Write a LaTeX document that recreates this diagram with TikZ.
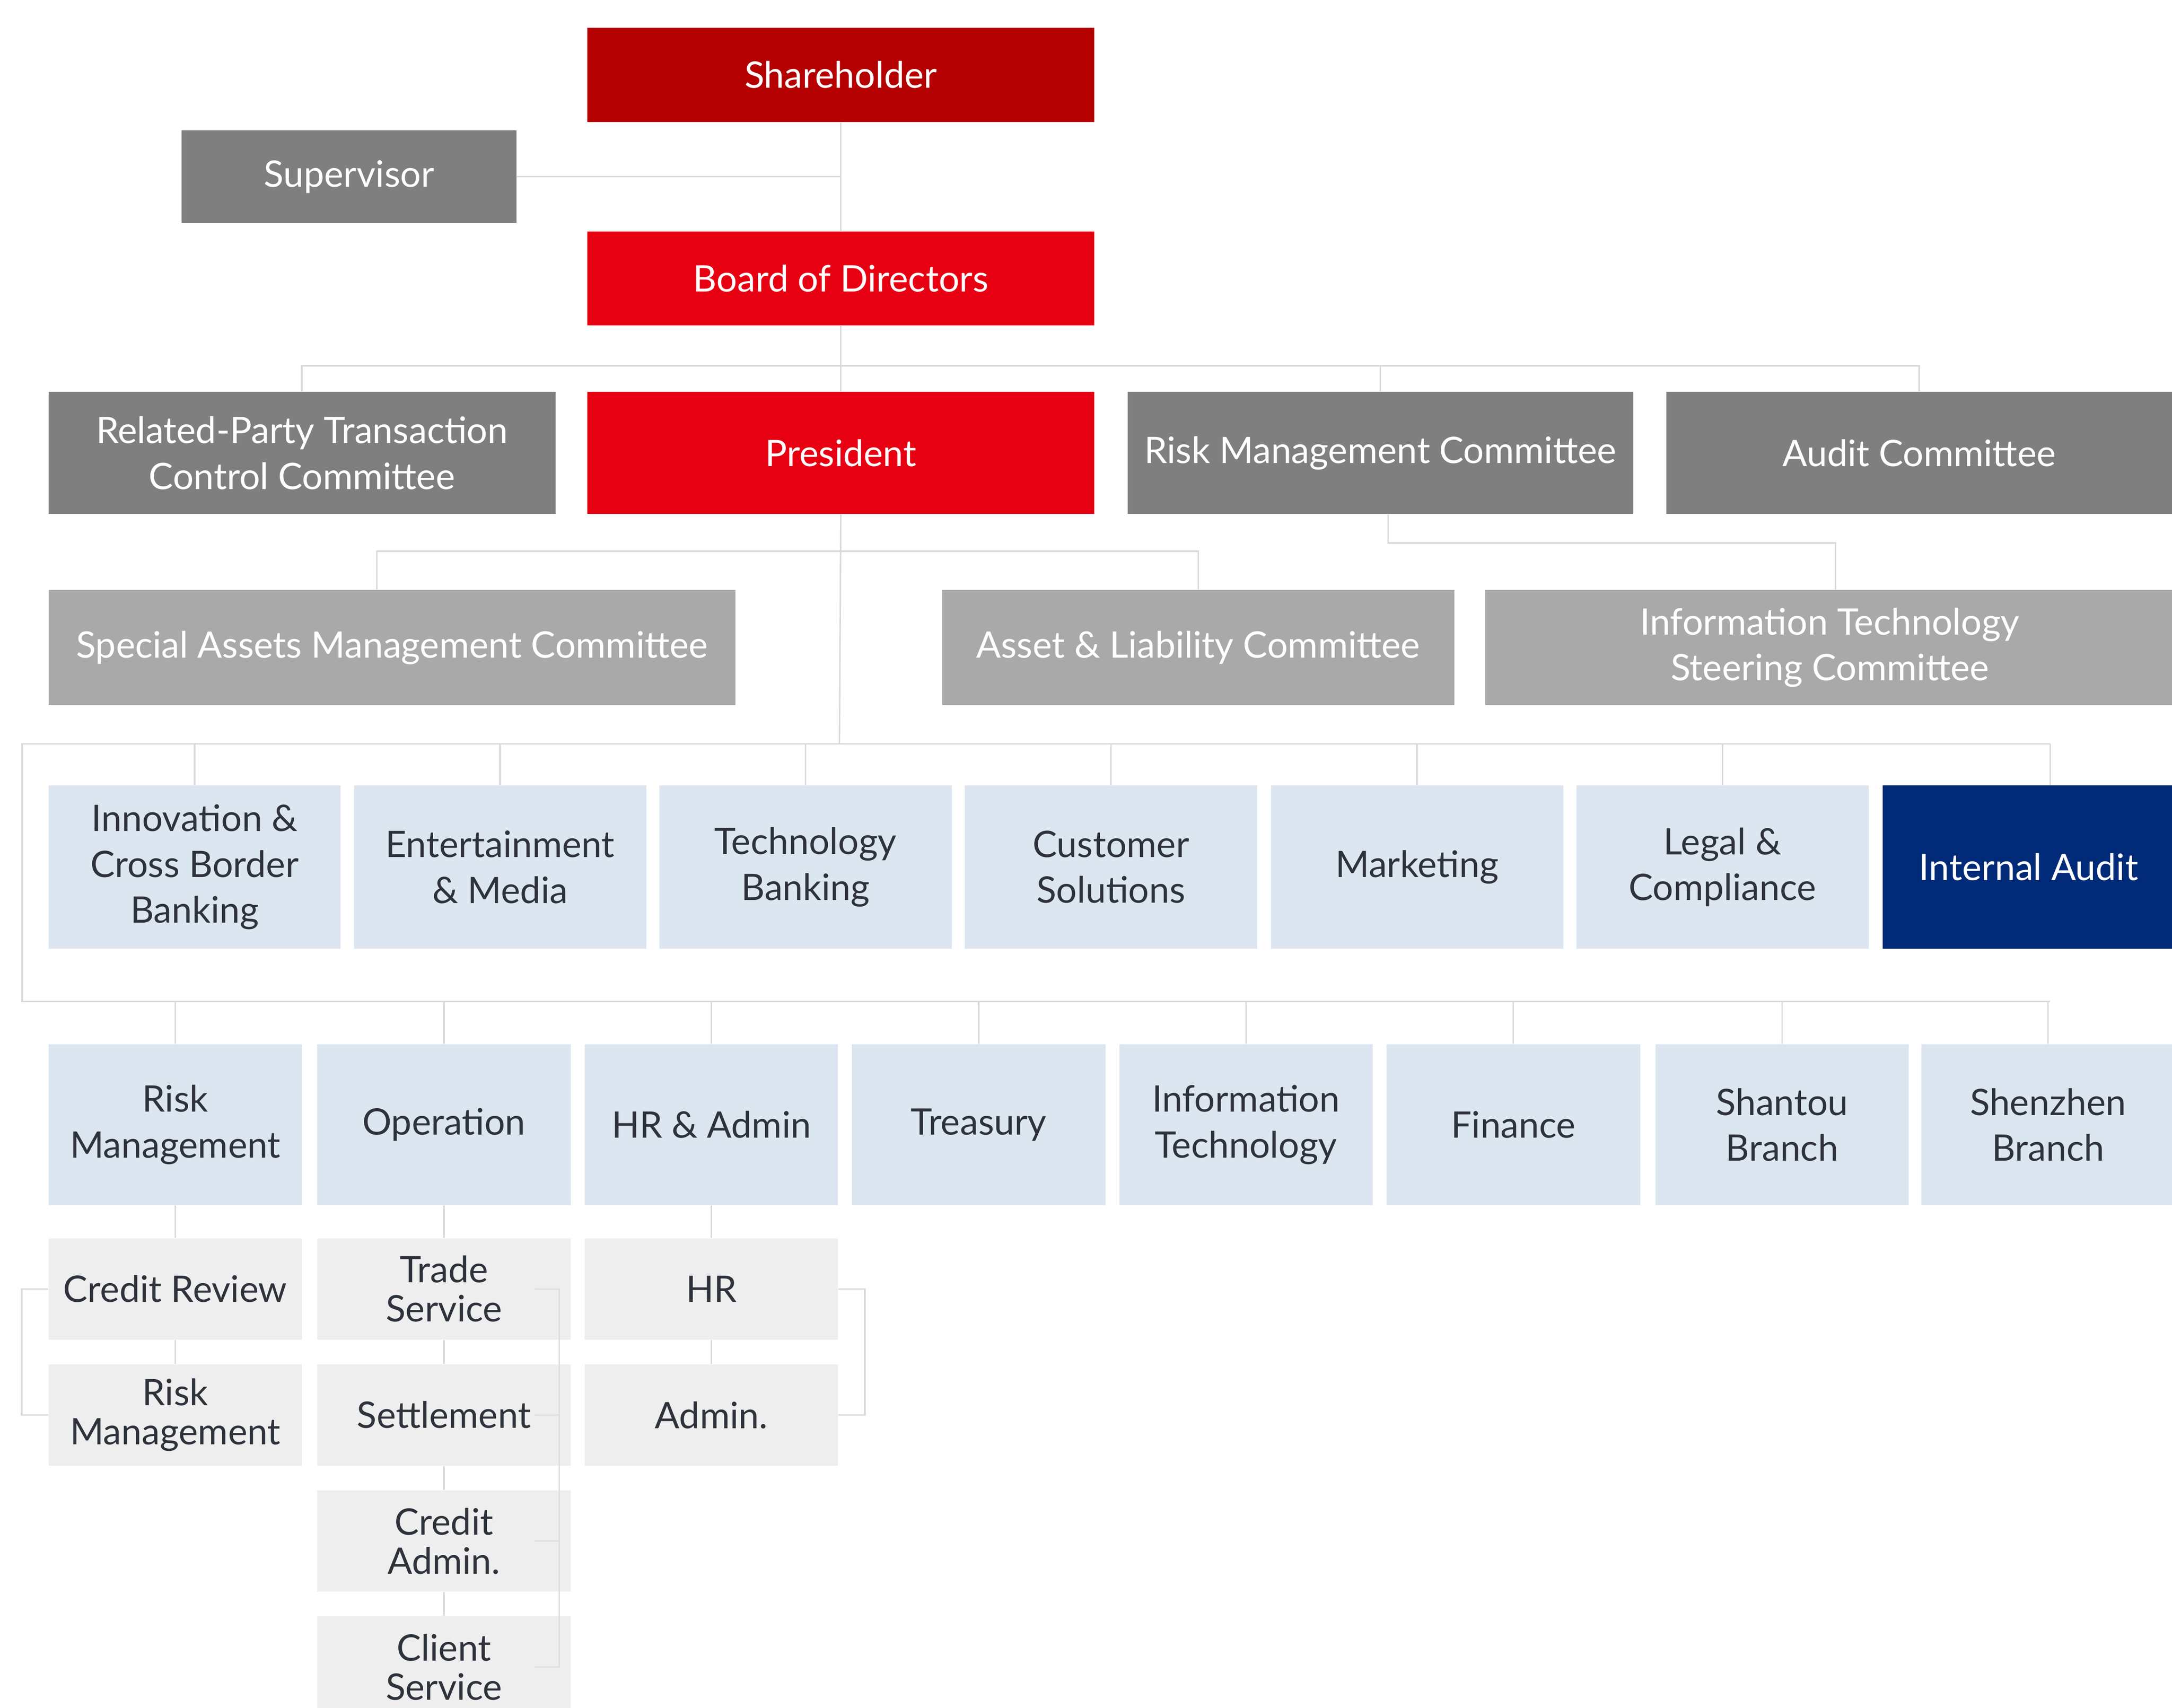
\documentclass[tikz,border=0pt]{standalone}
\usepackage{fontspec}
\setmainfont{Lato}
\usetikzlibrary{calc}

\definecolor{shred}{HTML}{B40000}
\definecolor{bdred}{HTML}{E60012}
\definecolor{dkgrey}{HTML}{7F7F7F}
\definecolor{ltgrey}{HTML}{A9A9A9}
\definecolor{paleblue}{HTML}{DCE6F1}
\definecolor{navy}{HTML}{012B78}
\definecolor{subgrey}{HTML}{EEEEEE}
\definecolor{linegrey}{HTML}{D9D9D9}
\definecolor{txt}{HTML}{2E323B}

\tikzset{
	box/.style={inner sep=0pt, align=center, font=\fontsize{15}{18.8}\selectfont},
	darkredbox/.style={box, fill=shred, text=white},
	redbox/.style={box, fill=bdred, text=white},
	greybox/.style={box, fill=dkgrey, text=white},
	lightgreybox/.style={box, fill=ltgrey, text=white},
	bluebox/.style={box, fill=paleblue, text=txt, minimum width=4.22cm, minimum height=2.36cm},
	navybox/.style={box, fill=navy, text=white, minimum width=4.22cm, minimum height=2.36cm},
	deptbox/.style={box, fill=paleblue, text=txt, minimum width=3.66cm, minimum height=2.32cm},
	subbox/.style={box, fill=subgrey, text=txt, minimum width=3.66cm, minimum height=1.46cm, font=\fontsize{15}{16}\selectfont},
	link/.style={draw=linegrey, line width=0.6pt},
}

\begin{document}
\begin{tikzpicture}[x=0.02cm, y=-0.02cm]
		\path[use as bounding box, clip] (0,0) rectangle (1568,1233);
		
		%%%%% TOP %%%%%
		\node[darkredbox, minimum width=7.32cm, minimum height=1.36cm] (share) at (607,54) {Shareholder};
		\node[greybox, minimum width=4.84cm, minimum height=1.34cm] (sup) at (252,127.5) {Supervisor};
		\node[redbox, minimum width=7.32cm, minimum height=1.36cm] (board) at (607,201) {Board of Directors};
		
		%%%%% COMMITTEES %%%%%
		\node[greybox, minimum width=7.32cm, minimum height=1.76cm] (rptc) at (218,327) {Related-Party Transaction\\Control Committee};
		\node[redbox, minimum width=7.32cm, minimum height=1.76cm] (pres) at (607,327) {President};
		\node[greybox, minimum width=7.30cm, minimum height=1.76cm] (rmc) at (996.5,327) {Risk Management Committee};
		\node[greybox, minimum width=7.30cm, minimum height=1.76cm] (audc) at (1385.5,327) {Audit Committee};
		
		\node[lightgreybox, minimum width=9.92cm, minimum height=1.66cm] (samc) at (283,467.5) {Special Assets Management Committee};
		\node[lightgreybox, minimum width=7.40cm, minimum height=1.66cm] (alc) at (865,467.5) {Asset \& Liability Committee};
		\node[lightgreybox, minimum width=9.96cm, minimum height=1.66cm] (itsc) at (1321,467.5) {Information Technology\\Steering Committee};
		
		%%%%% BUSINESS UNITS %%%%%
		\node[bluebox] (icbb) at (140.5,626) {Innovation \&\\Cross Border\\Banking};
		\node[bluebox] (ent) at (361,626) {Entertainment\\\& Media};
		\node[bluebox] (tech) at (581.5,626) {Technology\\Banking};
		\node[bluebox] (cust) at (802,626) {Customer\\Solutions};
		\node[bluebox] (mkt) at (1023,626) {Marketing};
		\node[bluebox] (legal) at (1243.5,626) {Legal \&\\Compliance};
		\node[navybox] (iaud) at (1464.5,626) {Internal Audit};
		
		%%%%% DEPARTMENTS %%%%%
		\node[deptbox] (riskm) at (126.5,812) {Risk\\Management};
		\node[deptbox] (oper) at (320.5,812) {Operation};
		\node[deptbox] (hradm) at (513.5,812) {HR \& Admin};
		\node[deptbox] (treas) at (706.5,812) {Treasury};
		\node[deptbox] (infot) at (899.5,812) {Information\\Technology};
		\node[deptbox] (fin) at (1092.5,812) {Finance};
		\node[deptbox] (shant) at (1286.5,812) {Shantou\\Branch};
		\node[deptbox] (shenz) at (1478.5,812) {Shenzhen\\Branch};
		
		\node[subbox] (credrev) at (126.5,930.5) {Credit Review};
		\node[subbox] (riskm2) at (126.5,1021.5) {Risk\\Management};
		\node[subbox] (trade) at (320.5,930.5) {Trade\\Service};
		\node[subbox] (settle) at (320.5,1021.5) {Settlement};
		\node[subbox] (credadm) at (320.5,1112.5) {Credit\\Admin.};
		\node[subbox] (client) at (320.5,1203.5) {Client\\Service};
		\node[subbox] (hr) at (513.5,930.5) {HR};
		\node[subbox] (admin) at (513.5,1021.5) {Admin.};
		
		%%%%% LINKS %%%%%
		\coordinate (j1) at (606,264);
		\coordinate (j2) at (606,398);
		\coordinate (j3) at (606,537);
		\coordinate (j4) at (1002,392);
		\coordinate (l3) at (16,537);
		\coordinate (r3) at (1480,537);
		\coordinate (l4) at (16,723);
		\coordinate (r4) at (1480,723);
		
		\draw[link] (share.south) -- (board.north);
		\draw[link] (sup.east) -- (sup.east -| share.south);
		\draw[link] (board.south) -- (pres.north);
		\draw[link] (rptc.north) |- (j1) -| (audc.north);
		\draw[link] (rmc.north) -- (rmc.north |- j1);
		
		\draw[link] (pres.south) -- (j3);
		\draw[link] ([xshift=-0.22cm]samc.north) |- (j2) -| (alc.north);
		\draw[link] (j4 |- rmc.south) -- (j4) -| ([xshift=0.08cm]itsc.north);
		
		\draw[link] (r3) -- (l3) -- (l4) -- (r4);
		\draw[link] (r3) -- (r3 |- iaud.north);
		\foreach \u in {icbb,ent,tech,cust,mkt,legal}
			\draw[link] (\u.north) -- (\u.north |- l3);
		\foreach \u in {riskm,oper,hradm,treas,infot,fin,shant,shenz}
			\draw[link] (\u.north) -- (\u.north |- l4);
		
		\draw[link] (riskm.south) -- (credrev.north);
		\draw[link] (credrev.south) -- (riskm2.north);
		\draw[link] (credrev.west) -- ++(-19,0) |- (riskm2.west);
		
		\draw[link] (oper.south) -- (trade.north);
		\draw[link] (trade.south) -- (settle.north);
		\draw[link] (settle.south) -- (credadm.north);
		\draw[link] (credadm.south) -- (client.north);
		\draw[link, draw=black!13] ([xshift=-0.53cm]trade.east) -- ([xshift=-0.17cm]trade.east) -- ([xshift=-0.17cm]client.east) -- ([xshift=-0.53cm]client.east);
		\draw[link, draw=black!13] ([xshift=-0.53cm]settle.east) -- ([xshift=-0.17cm]settle.east);
		\draw[link, draw=black!13] ([xshift=-0.53cm]credadm.east) -- ([xshift=-0.17cm]credadm.east);
		
		\draw[link] (hr.east) -- ++(19,0) |- (admin.east);
		\draw[link] (hradm.south) -- (hr.north);
		\draw[link] (hr.south) -- (admin.north);
	\end{tikzpicture}
\end{document}
